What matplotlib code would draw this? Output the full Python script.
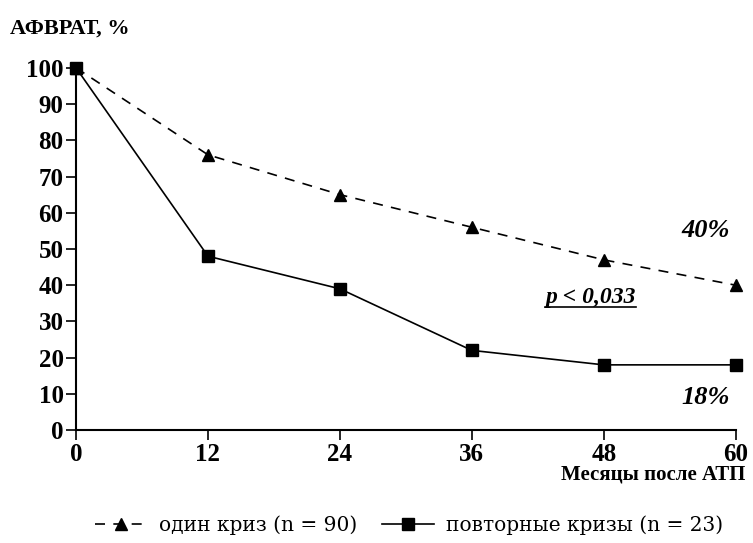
import matplotlib.pyplot as plt
from matplotlib.lines import Line2D

plt.rcParams["font.family"] = ["Liberation Serif", "DejaVu Serif"]

months = [0, 12, 24, 36, 48, 60]
one_crisis = [100, 76, 65, 56, 47, 40]
repeat_crisis = [100, 48, 39, 22, 18, 18]
y_ticks = list(range(0, 101, 10))

fig = plt.figure(figsize=(7.53, 5.43), dpi=100)
ax = fig.add_axes([0.101, 0.208, 0.876, 0.667])

ax.plot(months, one_crisis, color="black", lw=1.2, ls=(0, (6, 5)),
        marker="^", ms=9, label="один криз (n = 90)", clip_on=False)
ax.plot(months, repeat_crisis, color="black", lw=1.2, ls="-",
        marker="s", ms=9, label="повторные кризы (n = 23)", clip_on=False)

ax.set_xlim(0, 60)
ax.set_ylim(0, 100)
ax.set_xticks(months)
ax.set_yticks(y_ticks)
for side in ("top", "right"):
    ax.spines[side].set_visible(False)
ax.spines["left"].set_linewidth(1.5)
ax.spines["bottom"].set_linewidth(1.5)
ax.tick_params(direction="out", length=7, width=1.2, labelsize=18, pad=2)
for lbl in ax.get_xticklabels() + ax.get_yticklabels():
    lbl.set_fontweight("bold")

fig.text(0.013, 0.948, "АФВРАТ, %", fontsize=16, fontweight="bold", va="center")
fig.text(0.99, 0.127, "Месяцы после АТП", fontsize=15, fontweight="bold",
         ha="right", va="center")

ax.text(59.5, 55, "40%", fontsize=19, fontweight="bold", style="italic", ha="right", va="center")
ax.text(59.5, 9, "18%", fontsize=19, fontweight="bold", style="italic", ha="right", va="center")
ptxt = ax.text(46.8, 36.5, "p < 0,033", fontsize=17, fontweight="bold", style="italic",
               ha="center", va="center")

fig.legend(loc="lower center", bbox_to_anchor=(0.543, -0.012), ncol=2, frameon=False,
           prop={"family": "DejaVu Serif", "size": 14.5}, handlelength=2.6,
           handletextpad=0.6, columnspacing=1.2, borderaxespad=0.3)

# underline the p-value text
fig.canvas.draw()
bb = ptxt.get_window_extent().transformed(fig.transFigure.inverted())
fig.add_artist(Line2D([bb.x0, bb.x1], [bb.y0 + 0.002, bb.y0 + 0.002],
                      color="black", lw=1.2, transform=fig.transFigure))

fig.savefig("out.png", dpi=100)
